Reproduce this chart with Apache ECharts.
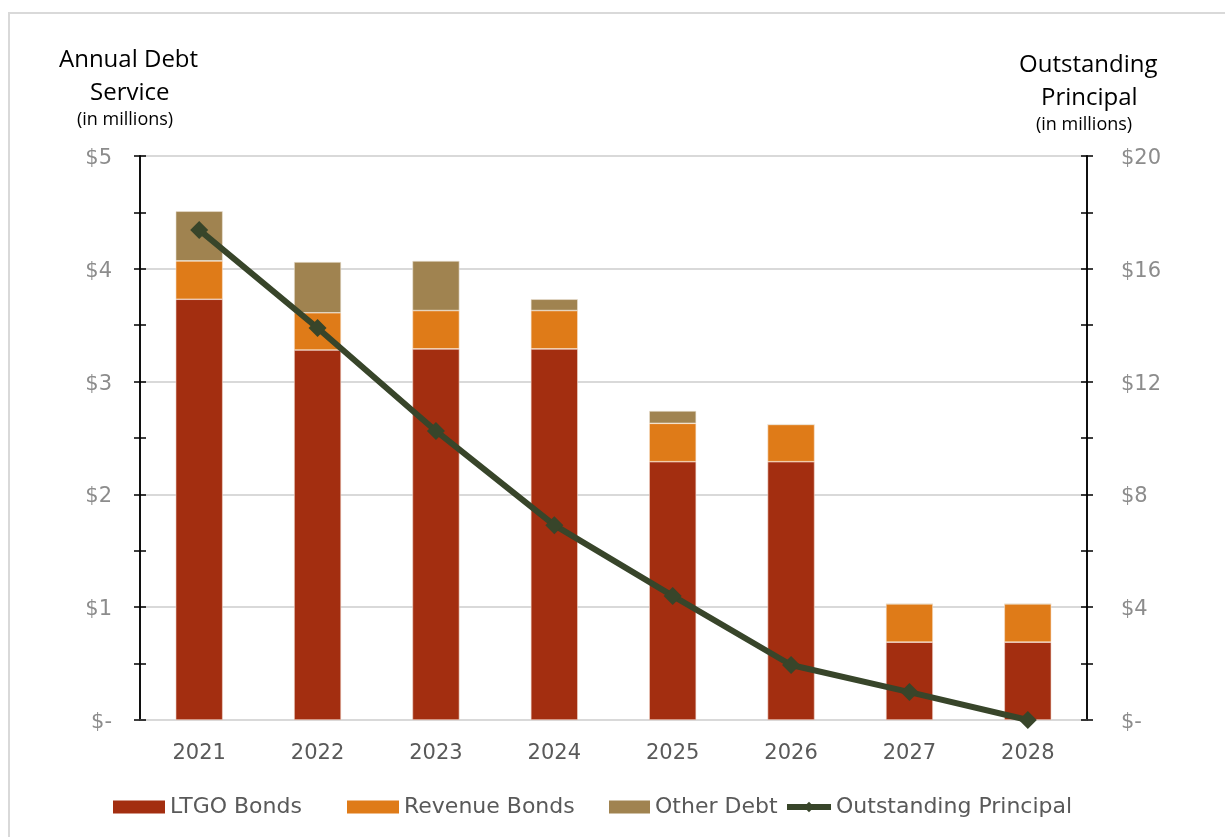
<!DOCTYPE html>
<html>
<head>
<meta charset="utf-8">
<script src="https://cdn.jsdelivr.net/npm/echarts@6/dist/echarts.min.js"></script>
<style>
  html, body { margin: 0; padding: 0; background: #fff; }
  #chart { width: 1225px; height: 837px; }
</style>
</head>
<body>
<div id="chart"></div>
<script>
// Debt service by year (millions) and outstanding principal (millions)
const years = ['2021', '2022', '2023', '2024', '2025', '2026', '2027', '2028'];
const ltgoBonds = [3.73, 3.28, 3.29, 3.29, 2.29, 2.29, 0.69, 0.69];
const revenueBonds = [0.34, 0.33, 0.34, 0.34, 0.34, 0.33, 0.34, 0.34];
const otherDebt = [0.44, 0.45, 0.44, 0.10, 0.11, 0, 0, 0];
const outstandingPrincipal = [17.38, 13.90, 10.25, 6.91, 4.40, 1.95, 0.99, 0];
const seriesNames = ['LTGO Bonds', 'Revenue Bonds', 'Other Debt', 'Outstanding Principal'];

const labelFont = '"DejaVu Sans", Lato, sans-serif';
const titleFont = '"Open Sans", "Noto Sans", sans-serif';
const lineColor = '#38452a';

const moneyFmt = v => '{v|' + (v === 0 ? '$-' : '$' + v) + '}';

function valueAxis(position, max, interval, showLabels, inside, margin) {
  return {
    type: 'value',
    position: position,
    min: 0,
    max: max,
    interval: interval,
    axisLine: { show: true, lineStyle: { color: '#000', width: 1.5 } },
    axisTick: { show: true, inside: inside, length: 6, lineStyle: { color: '#000', width: 1.5 } },
    minorTick: { show: true, splitNumber: 2, length: 6, lineStyle: { color: '#000', width: 1.5 } },
    axisLabel: {
      show: showLabels, formatter: moneyFmt, margin: margin,
      rich: { v: { color: '#8c8c8c', fontFamily: labelFont, fontSize: 21, padding: [5, 0, 0, 0] } }
    },
    splitLine: { show: showLabels && position === 'left', lineStyle: { color: '#d9d9d9', width: 2 } }
  };
}

// one legend block per series so each entry sits at its own spot
const legendLefts = [108, 342, 604, 779];
const legendWidths = [52, 52, 41, 44];
const legends = seriesNames.map((name, i) => ({
  left: legendLefts[i],
  top: 791,
  itemWidth: legendWidths[i],
  itemHeight: 13,
  itemGap: 0,
  itemStyle: { borderWidth: 0 },
  lineStyle: { width: 6, color: lineColor },
  textStyle: { color: '#595959', fontFamily: labelFont, fontSize: 22, padding: [0, 0, 0, 0] },
  data: [i === 3 ? { name: name } : { name: name, icon: 'rect' }]
}));

const chart = echarts.init(document.getElementById('chart'));
chart.setOption({
  animation: false,
  backgroundColor: '#fff',
  grid: { left: 140, right: 138, top: 156, bottom: 117 },
  graphic: [
    { type: 'rect', shape: { x: 9, y: 13, width: 1240, height: 860 },
      style: { fill: 'none', stroke: '#d9d9d9', lineWidth: 2 } },
    { type: 'text', left: 59, top: 48,
      style: { text: 'Annual Debt', font: '24px ' + titleFont, fill: '#000' } },
    { type: 'text', left: 90, top: 81,
      style: { text: 'Service', font: '24px ' + titleFont, fill: '#000' } },
    { type: 'text', left: 77, top: 111,
      style: { text: '(in millions)', font: '18px ' + titleFont, fill: '#000' } },
    { type: 'text', left: 1019, top: 53,
      style: { text: 'Outstanding', font: '24px ' + titleFont, fill: '#000' } },
    { type: 'text', left: 1041, top: 86,
      style: { text: 'Principal', font: '24px ' + titleFont, fill: '#000' } },
    { type: 'text', left: 1036, top: 116,
      style: { text: '(in millions)', font: '18px ' + titleFont, fill: '#000' } }
  ],
  legend: legends,
  xAxis: {
    type: 'category',
    data: years,
    axisLine: { show: true, lineStyle: { color: '#d9d9d9', width: 2 } },
    axisTick: { show: false },
    axisLabel: { color: '#595959', fontFamily: labelFont, fontSize: 21, margin: 23 }
  },
  yAxis: [
    valueAxis('left', 5, 1, true, false, 28),
    valueAxis('right', 20, 4, true, false, 34),
    valueAxis('left', 5, 1, false, true, 8),
    valueAxis('right', 20, 4, false, true, 8)
  ],
  series: [
    { name: seriesNames[0], type: 'bar', stack: 'debt', data: ltgoBonds, barWidth: 47,
      itemStyle: { color: '#a32e10', borderColor: '#f2d8cc', borderWidth: 0.6 } },
    { name: seriesNames[1], type: 'bar', stack: 'debt', data: revenueBonds, barWidth: 47,
      itemStyle: { color: '#df7b18', borderColor: '#f8e2cc', borderWidth: 0.6 } },
    { name: seriesNames[2], type: 'bar', stack: 'debt', data: otherDebt, barWidth: 47,
      itemStyle: { color: '#a08350', borderColor: '#ece4d6', borderWidth: 0.6 } },
    { name: seriesNames[3], type: 'line', yAxisIndex: 1, data: outstandingPrincipal,
      symbol: 'diamond', symbolSize: 18, z: 10,
      lineStyle: { color: lineColor, width: 6 },
      itemStyle: { color: lineColor } }
  ]
});
</script>
</body>
</html>
